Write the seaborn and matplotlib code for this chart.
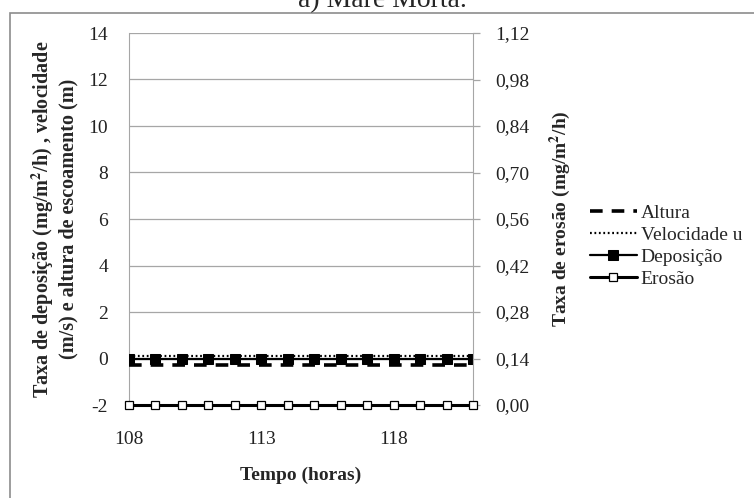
import numpy as np
import pandas as pd
import matplotlib.pyplot as plt
import matplotlib.patches as mpatches
import seaborn as sns

# data (hours 108..121)
tempo = [108, 109, 110, 111, 112, 113, 114, 115, 116, 117, 118, 119, 120, 121]
altura = [-0.3] * 14
velocidade_u = [0.1] * 14
deposicao = [0.0] * 14
erosao = [0.0] * 14

left_ticks = [-2, 0, 2, 4, 6, 8, 10, 12, 14]
right_ticks = [0.00, 0.14, 0.28, 0.42, 0.56, 0.70, 0.84, 0.98, 1.12]
x_ticks = [108, 113, 118]

sns.set_style("white")
plt.rcParams["font.family"] = ["Liberation Serif", "DejaVu Serif"]
plt.rcParams["mathtext.fontset"] = "stix"

df = pd.DataFrame({"tempo": tempo, "altura": altura, "vel": velocidade_u,
                   "dep": deposicao, "ero": erosao})

fig = plt.figure(figsize=(7.54, 4.98), dpi=100)
ax = fig.add_axes([129 / 754, 93 / 498, 344 / 754, 372 / 498])
ax2 = ax.twinx()

grid_c = "#a6a6a6"

# left axis series
sns.lineplot(data=df, x="tempo", y="altura", ax=ax, color="black", lw=2.6,
             label="Altura", zorder=3)
ax.lines[-1].set_linestyle((0, (3.5, 2.5)))
sns.lineplot(data=df, x="tempo", y="vel", ax=ax, color="black", lw=1.6,
             label="Velocidade u", zorder=3)
ax.lines[-1].set_linestyle((0, (0.8, 1.2)))
sns.lineplot(data=df, x="tempo", y="dep", ax=ax, color="black", lw=1.6,
             marker="s", markersize=7, markeredgecolor="black",
             markerfacecolor="black", label="Deposição", zorder=4)

# right axis series
sns.lineplot(data=df, x="tempo", y="ero", ax=ax2, color="black", lw=2.2,
             marker="s", markersize=6, markeredgecolor="black",
             markerfacecolor="white", markeredgewidth=0.9, label="Erosão",
             zorder=4, clip_on=False)

ax.set_xlim(108, 121)
ax.set_ylim(-2, 14)
ax2.set_ylim(0, 1.12)
ax.set_yticks(left_ticks)
ax.set_yticklabels([str(t) for t in left_ticks])
ax2.set_yticks(right_ticks)
ax2.set_yticklabels([f"{t:.2f}".replace(".", ",") for t in right_ticks])
ax.set_xticks(x_ticks)
ax.set_xticklabels([str(t) for t in x_ticks])

ax.yaxis.grid(True, color=grid_c, lw=0.9)
ax.xaxis.grid(False)
for a in (ax, ax2):
    for s in a.spines.values():
        s.set_visible(False)
ax.spines["left"].set_visible(True)
ax.spines["left"].set_color(grid_c)
ax2.spines["right"].set_visible(True)
ax2.spines["right"].set_color(grid_c)

ax.tick_params(axis="both", length=0, labelsize=14, labelcolor="#222222")
ax.tick_params(axis="y", pad=15)
ax.tick_params(axis="x", pad=19)
ax2.tick_params(axis="y", length=5, color=grid_c, width=0.9, labelsize=14,
                labelcolor="#222222", pad=11)

ax.set_xlabel("Tempo (horas)", fontsize=14, fontweight="bold", labelpad=13)
ax.set_ylabel("Taxa de deposição (mg/m$^{\\mathbf{2}}$/h) , velocidade\n"
              "(m/s) e altura de escoamento (m)",
              fontsize=14.5, fontweight="bold", labelpad=7, linespacing=1.2)
ax2.set_ylabel("Taxa de erosão (mg/m$^{\\mathbf{2}}$/h)", fontsize=14,
               fontweight="bold", labelpad=13)

# legend combining both axes
h1, l1 = ax.get_legend_handles_labels()
h2, l2 = ax2.get_legend_handles_labels()
if ax2.get_legend():
    ax2.get_legend().remove()
if ax.get_legend():
    ax.get_legend().remove()
fig.legend(h1 + h2, l1 + l2, loc="center left",
           bbox_to_anchor=(590 / 754, 1 - 246 / 498), frameon=False,
           fontsize=14, handlelength=2.4, handletextpad=0.2,
           labelspacing=0.22, borderaxespad=0, borderpad=0)

# outer chart border (only left and top visible in the reference)
fig.patches.append(mpatches.Rectangle((9.5 / 754, -0.1), 2, (498 - 13) / 498 + 0.1,
                                      transform=fig.transFigure, fill=False,
                                      edgecolor="#8c8c8c", lw=1.2))

fig.text(382 / 754, 1 - 7 / 498, "a) Maré Morta.", ha="center",
         va="baseline", fontsize=20)

fig.savefig("out.png", dpi=100)
